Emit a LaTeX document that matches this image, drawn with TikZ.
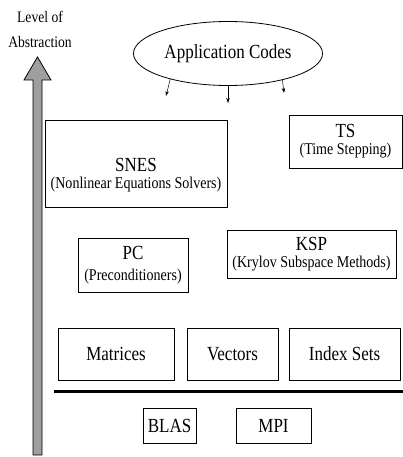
\documentclass[tikz,border=0pt]{standalone}
\usepackage{fontspec}
\setmainfont{Liberation Serif}[FakeStretch=0.85]
\usetikzlibrary{shapes.geometric,arrows.meta}
\newcommand{\bigtxt}{\fontsize{20}{21}\selectfont}
\newcommand{\subtxt}{\fontsize{16.5}{17}\selectfont}
\tikzset{
  box/.style={draw, line width=0.8pt, inner sep=0pt, align=center, font=\subtxt},
  tip/.style={-{Stealth[length=5pt,width=3.5pt]}, line width=0.5pt}
}
\begin{document}
\begin{tikzpicture}[x=1pt, y=-1pt]
            \useasboundingbox (0,0) rectangle (403,457);
            % level of abstraction
            \draw[fill=gray!75, line width=0.8pt] (33,455) -- (33,80) -- (24,80) -- (37.5,57) -- (51,80) -- (42,80) -- (42,455) -- cycle;
            \node[font=\fontsize{16}{25}\selectfont, align=center] (level) at (40,29) {Level of\\Abstraction};
            % application codes
            \node[draw, ellipse, line width=0.8pt, minimum width=170pt, minimum height=64pt, font=\bigtxt] (app) at (228,53.5) {Application Codes};
            \coordinate (el) at (166,96); \coordinate (em) at (228,103); \coordinate (er) at (284,93);
            \foreach \a/\e in {204/l, 270/m, 334/r} \draw[tip] (app.\a) -- (e\e);
            % solvers
            \node[box, minimum width=182pt, minimum height=87pt] (snes) at (136,163.5) {};
            \node[align=center, font=\subtxt] (snestxt) at ([yshift=-12pt]snes.center) {{\bigtxt SNES}\\(Nonlinear Equations Solvers)};
            \node[box, minimum width=113pt, minimum height=53pt] (ts) at (345.5,141.5) {{\bigtxt TS}\\(Time Stepping)};
            \node[box, minimum width=110pt, minimum height=54pt] (pc) at (133,265) {{\bigtxt PC}\\[4pt](Preconditioners)};
            \node[box, minimum width=169pt, minimum height=48pt] (ksp) at (311.5,254) {{\bigtxt KSP}\\(Krylov Subspace Methods)};
            % data structures
            \foreach \n/\x/\w/\t in {mat/116/116/Matrices, vec/232.5/91/Vectors, idx/344.5/111/Index Sets}
              \node[box, minimum width=\w pt, minimum height=52pt, font=\bigtxt] (\n) at (\x,354) {\t};
            \draw[line width=3pt] (54,391) -- (403,391);
            \foreach \n/\x/\w/\t in {blas/169.5/53/BLAS, mpi/273.5/75/MPI}
              \node[box, minimum width=\w pt, minimum height=35pt, font=\bigtxt] (\n) at (\x,425.5) {\t};
        \end{tikzpicture}
\end{document}
